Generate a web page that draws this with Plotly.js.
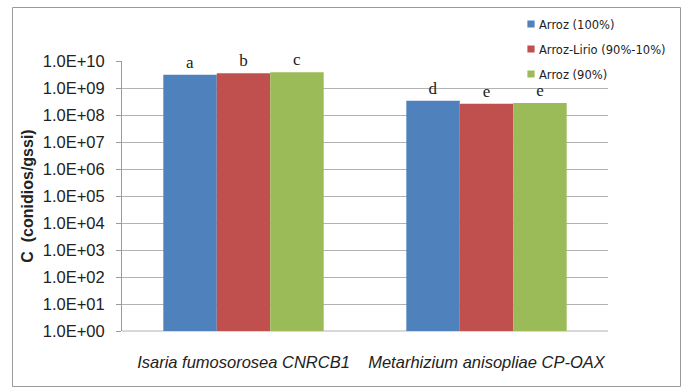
<!DOCTYPE html>
<html>
<head>
<meta charset="utf-8">
<script src="https://cdn.plot.ly/plotly-3.0.1.min.js"></script>
<style>
html,body{margin:0;padding:0;background:#fff;}
#chart{width:685px;height:390px;}
</style>
</head>
<body>
<div id="chart"></div>
<script>
const categories = ['Isaria fumosorosea CNRCB1', 'Metarhizium anisopliae CP-OAX'];
const seriesNames = ['Arroz (100%)', 'Arroz-Lirio (90%-10%)', 'Arroz (90%)'];
const arroz100 = [3.1e9, 3.4e8];
const arrozLirio = [3.5e9, 2.6e8];
const arroz90 = [3.8e9, 2.8e8];
const letters100 = ['a', 'd'];
const lettersLirio = ['b', 'e'];
const letters90 = ['c', 'e'];
const tickVals = [1e0, 1e1, 1e2, 1e3, 1e4, 1e5, 1e6, 1e7, 1e8, 1e9, 1e10];
const tickText = ['1.0E+00', '1.0E+01', '1.0E+02', '1.0E+03', '1.0E+04', '1.0E+05',
                  '1.0E+06', '1.0E+07', '1.0E+08', '1.0E+09', '1.0E+10'];
const yTitle = 'C  (conidios/gssi)';

const colors = ['#4f81bd', '#c0504d', '#9bbb59'];
const values = [arroz100, arrozLirio, arroz90];
const letters = [letters100, lettersLirio, letters90];

const traces = values.map((v, i) => ({
  type: 'bar',
  name: seriesNames[i],
  x: categories,
  y: v,
  text: letters[i],
  textposition: 'outside',
  cliponaxis: false,
  textfont: {family: 'Liberation Serif, serif', size: 17, color: '#222'},
  marker: {color: colors[i], line: {width: 0}},
  legendgroup: 'g' + i,
  hoverinfo: 'none'
}));

// frame geometry (pixels) converted to paper coords
const L = 122, R = 77, T = 61, B = 59, W = 685, H = 390;
const pw = W - L - R, ph = H - T - B;
const px = x => (x - L) / pw;
const py = y => (H - B - y) / ph;

const layout = {
  width: W, height: H,
  margin: {l: L, r: R, t: T, b: B, pad: 0, autoexpand: false},
  paper_bgcolor: '#fff',
  plot_bgcolor: '#fff',
  barmode: 'group',
  bargap: 0.34,
  bargroupgap: 0,
  showlegend: true,
  legend: {
    x: px(499), xanchor: 'left',
    y: py(9.5), yanchor: 'top',
    font: {family: 'DejaVu Sans, sans-serif', size: 11.5, color: '#222'},
    tracegroupgap: 6,
    bgcolor: 'rgba(0,0,0,0)'
  },
  xaxis: {
    type: 'category',
    showgrid: false,
    showline: false,
    ticks: '',
    ticklabelstandoff: 19,
    tickfont: {family: 'Liberation Sans, sans-serif', size: 16.5, style: 'italic', color: '#222'},
    automargin: false,
    fixedrange: true
  },
  yaxis: {
    type: 'log',
    range: [0, 10],
    tickvals: tickVals,
    ticktext: tickText,
    tickfont: {family: 'Liberation Sans, sans-serif', size: 16.5, color: '#222'},
    ticklabelstandoff: 8,
    showgrid: true,
    gridcolor: '#b3b3b3',
    gridwidth: 1,
    showline: true,
    linecolor: '#9a9a9a',
    linewidth: 1,
    ticks: 'outside',
    ticklen: 5,
    tickcolor: '#9a9a9a',
    zeroline: false,
    automargin: false,
    title: {text: '<b>' + yTitle + '</b>', font: {family: 'Liberation Sans, sans-serif', size: 16, color: '#222'}, standoff: 5},
    fixedrange: true
  },
  shapes: [{
    type: 'rect', xref: 'paper', yref: 'paper', layer: 'below',
    x0: px(12.5), x1: px(680.5), y0: py(386.5), y1: py(7.5),
    line: {color: '#9a9a9a', width: 1}, fillcolor: 'rgba(0,0,0,0)'
  }, {
    type: 'line', xref: 'paper', yref: 'paper', layer: 'below',
    x0: 0, x1: 1, y0: 0, y1: 0,
    line: {color: '#b3b3b3', width: 1}
  }]
};

Plotly.newPlot('chart', traces, layout, {displayModeBar: false, staticPlot: true}).then(() => {
  document.querySelectorAll('.legendpoints path').forEach(p => {
    p.setAttribute('transform', 'translate(32,0) scale(0.6)');
  });
});
</script>
</body>
</html>
